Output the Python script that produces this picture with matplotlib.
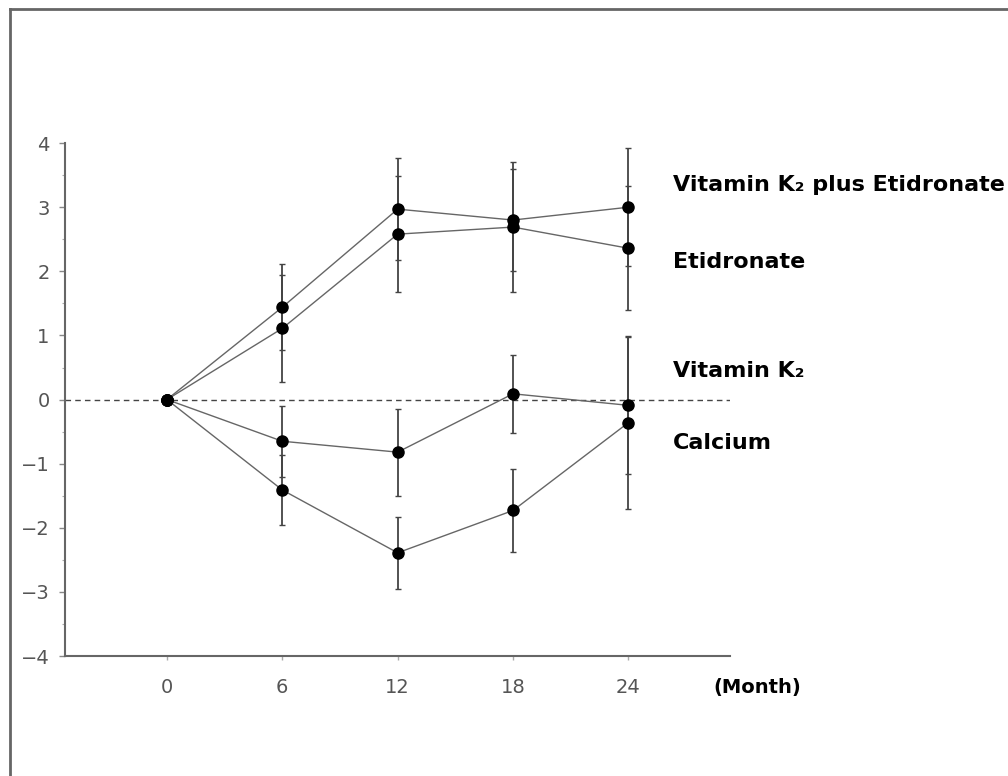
import matplotlib
matplotlib.use("Agg")
import matplotlib.pyplot as plt
from matplotlib.lines import Line2D
from matplotlib.ticker import MultipleLocator

months = [0, 6, 12, 18, 24]

k2_etid = [0, 1.44, 2.97, 2.80, 3.00]
k2_etid_err = [0, 0.67, 0.80, 0.80, 0.92]

etid = [0, 1.11, 2.58, 2.69, 2.36]
etid_err = [0, 0.84, 0.91, 1.02, 0.97]

vit_k2 = [0, -0.65, -0.82, 0.09, -0.09]
vit_k2_err = [0, 0.55, 0.68, 0.61, 1.07]

calcium = [0, -1.41, -2.39, -1.73, -0.36]
calcium_err = [0, 0.54, 0.56, 0.65, 1.35]

labels = ["Vitamin K₂ plus Etidronate", "Etidronate", "Vitamin K₂", "Calcium"]
label_y = [3.34, 2.14, 0.44, -0.68]

plt.rcParams['font.family'] = ['DejaVu Sans']

fig = plt.figure(figsize=(10.08, 7.76), dpi=100)
ax = fig.add_axes([0.0645, 0.1546, 0.660, 0.661])

# zero reference line
ax.axhline(0, color="#444444", lw=1, ls=(0, (4, 3)), zorder=1)

for vals, errs in [(k2_etid, k2_etid_err), (etid, etid_err),
                   (vit_k2, vit_k2_err), (calcium, calcium_err)]:
    ax.errorbar(months, vals, yerr=errs, color="#666666", lw=1,
                ecolor="#444444", elinewidth=1.3, capsize=2, capthick=1,
                marker="o", markersize=8, markerfacecolor="black",
                markeredgecolor="black", zorder=3)

ax.set_xlim(-5.3, 29.3)
ax.set_ylim(-4, 4)
ax.set_xticks(months)
ax.set_yticks(range(-4, 5))
ax.yaxis.set_minor_locator(MultipleLocator(0.5))

for s in ["top", "right"]:
    ax.spines[s].set_visible(False)
for s in ["left", "bottom"]:
    ax.spines[s].set_color("#666666")
    ax.spines[s].set_linewidth(1.5)

ax.tick_params(axis="y", which="major", length=4, width=1, color="#888888",
               pad=7, labelsize=14, labelcolor="#555555")
ax.tick_params(axis="y", which="minor", length=2, width=0.8, color="#aaaaaa")
ax.tick_params(axis="x", length=3, width=1, color="#aaaaaa",
               pad=13, labelsize=14, labelcolor="#555555")
ax.set_yticklabels(["−4", "−3", "−2", "−1", "0", "1", "2", "3", "4"])

for txt, y in zip(labels, label_y):
    ax.text(26.3, y, txt, fontsize=16, fontweight="bold", va="center",
            ha="left", clip_on=False)
ax.text(28.4, -4.49, "(Month)", fontsize=14, fontweight="bold",
        va="center", ha="left", clip_on=False)

# partial outer frame (top and left edges)
fig.add_artist(Line2D([10 / 1008, 1], [1 - 9 / 776, 1 - 9 / 776],
                      transform=fig.transFigure, color="#666666", lw=2))
fig.add_artist(Line2D([10 / 1008, 10 / 1008], [0, 1 - 9 / 776],
                      transform=fig.transFigure, color="#666666", lw=2))

fig.savefig("out.png", dpi=100)
